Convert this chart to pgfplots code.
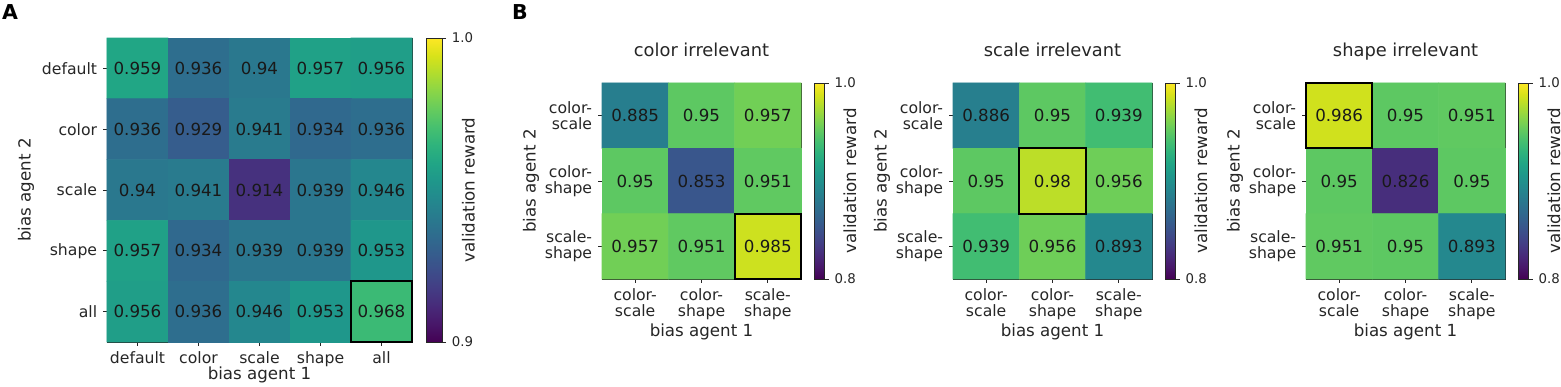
\documentclass[border=0pt]{standalone}
\usepackage{fontspec}
\setmainfont{DejaVu Sans}
\usepackage{pgfplots}
\usepgfplotslibrary{colormaps}
\pgfplotsset{compat=1.18}

\definecolor{txt}{HTML}{262626}

% common look of the heatmaps (1 px of the reference = 0.6pt)
\pgfplotsset{
  heatmap axis/.style={
    scale only axis,
    y dir=reverse,
    clip=false,
    colormap/viridis,
    tick align=outside,
    tick pos=left,
    major tick length=2.4pt,
    tick style={txt, line width=0.5pt},
    axis line style={txt, line width=0.5pt},
    every tick label/.append style={font=\fontsize{9.4}{9.6}\selectfont, text=txt},
    label style={font=\fontsize{10}{12}\selectfont, text=txt},
    title style={font=\fontsize{10.7}{12}\selectfont, text=txt,
      at={(axis description cs:0.5,1)}, anchor=base, yshift=10pt},
    colorbar,
  },
  heatmap cells/.style={
    matrix plot*,
    mesh/cols=#1,
    point meta=explicit,
    nodes near coords={\pgfmathprintnumber[fixed,precision=3,assume math mode=true]{\pgfplotspointmeta}},
    nodes near coords align={center},
    every node near coord/.append style={font=\fontsize{10}{12}\selectfont, text=black!90},
  },
  three by three/.style={
    width=119.4pt, height=117.6pt,
    xmin=-0.5, xmax=2.5, ymin=-0.5, ymax=2.5,
    xtick={0,1,2}, ytick={0,1,2},
    xticklabels={{color-\\scale},{color-\\shape},{scale-\\shape}},
    yticklabels={{color-\\scale},{color-\\shape},{scale-\\shape}},
    xticklabel style={align=center},
    yticklabel style={align=right},
    xlabel={bias agent 1}, ylabel={bias agent 2},
    xlabel style={at={(axis description cs:0.5,0)}, anchor=base, yshift=-34.8pt},
    ylabel style={at={(axis description cs:-0.3337,0.5)}, anchor=base},
    point meta min=0.8, point meta max=1,
    colorbar shift/.style={xshift=7.8pt},
    colorbar style={
      at={(parent axis.north east)}, anchor=north west,
      width=6.4pt,
      ytick={0.8,1}, yticklabels={0.8,1.0},
      tick align=outside, ytick pos=right, major tick length=2.4pt,
      tick style={txt, line width=0.5pt},
      axis line style={txt, line width=0.5pt},
      yticklabel style={font=\fontsize{8}{9}\selectfont, text=txt},
      ylabel={validation reward},
      ylabel style={font=\fontsize{10}{12}\selectfont, text=txt,
        at={(axis description cs:3.95,0.5)}, anchor=base},
    },
  },
}

\begin{document}
\begin{tikzpicture}
\path[use as bounding box] (0,0) rectangle (936.6pt,232.2pt);

\node[anchor=base west, inner sep=0pt, font=\bfseries\fontsize{12.3}{14}\selectfont] at (1pt,220.2pt) {A};
\node[anchor=base west, inner sep=0pt, font=\bfseries\fontsize{12.3}{14}\selectfont] at (307pt,220.2pt) {B};

% ---- A: all biases
\begin{axis}[heatmap axis,
  at={(64.2pt,27pt)}, anchor=south west,
  width=183pt, height=182.4pt,
  xmin=-0.5, xmax=4.5, ymin=-0.5, ymax=4.5,
  xtick={0,...,4}, ytick={0,...,4},
  xticklabels={default,color,scale,shape,all},
  yticklabels={default,color,scale,shape,all},
  xlabel={bias agent 1}, ylabel={bias agent 2},
  xlabel style={at={(axis description cs:0.5,0)}, anchor=base, yshift=-22.4pt},
  ylabel style={at={(axis description cs:-0.2505,0.5)}, anchor=base},
  point meta min=0.9, point meta max=1,
  colorbar shift/.style={xshift=8.4pt},
  colorbar style={
    at={(parent axis.north east)}, anchor=north west,
    width=9.6pt,
    ytick={0.9,1}, yticklabels={0.9,1.0},
    tick align=outside, ytick pos=right, major tick length=2.4pt,
    tick style={txt, line width=0.5pt},
    axis line style={txt, line width=0.5pt},
    yticklabel style={font=\fontsize{8}{9}\selectfont, text=txt},
    ylabel={validation reward},
    ylabel style={font=\fontsize{10}{12}\selectfont, text=txt,
      at={(axis description cs:3.04,0.5)}, anchor=base},
  },
]
\addplot[heatmap cells=5] coordinates {
  (0,0) [0.959] (1,0) [0.936] (2,0) [0.94]  (3,0) [0.957] (4,0) [0.956]
  (0,1) [0.936] (1,1) [0.929] (2,1) [0.941] (3,1) [0.934] (4,1) [0.936]
  (0,2) [0.94]  (1,2) [0.941] (2,2) [0.914] (3,2) [0.939] (4,2) [0.946]
  (0,3) [0.957] (1,3) [0.934] (2,3) [0.939] (3,3) [0.939] (4,3) [0.953]
  (0,4) [0.956] (1,4) [0.936] (2,4) [0.946] (3,4) [0.953] (4,4) [0.968]
};
\addplot[black, line width=1.2pt, forget plot] coordinates {(3.5,3.5) (4.5,3.5) (4.5,4.5) (3.5,4.5) (3.5,3.5) (4.5,3.5)};
\end{axis}

% ---- B: color irrelevant
\begin{axis}[heatmap axis, three by three, at={(361.2pt,64.8pt)}, anchor=south west,
  title={color irrelevant}]
\addplot[heatmap cells=3] coordinates {
  (0,0) [0.885] (1,0) [0.95]  (2,0) [0.957]
  (0,1) [0.95]  (1,1) [0.853] (2,1) [0.951]
  (0,2) [0.957] (1,2) [0.951] (2,2) [0.985]
};
\addplot[black, line width=1.2pt, forget plot] coordinates {(1.5,1.5) (2.5,1.5) (2.5,2.5) (1.5,2.5) (1.5,1.5) (2.5,1.5)};
\end{axis}

% ---- B: scale irrelevant
\begin{axis}[heatmap axis, three by three, at={(571.8pt,64.8pt)}, anchor=south west,
  title={scale irrelevant}]
\addplot[heatmap cells=3] coordinates {
  (0,0) [0.886] (1,0) [0.95]  (2,0) [0.939]
  (0,1) [0.95]  (1,1) [0.98]  (2,1) [0.956]
  (0,2) [0.939] (1,2) [0.956] (2,2) [0.893]
};
\addplot[black, line width=1.2pt, forget plot] coordinates {(0.5,0.5) (1.5,0.5) (1.5,1.5) (0.5,1.5) (0.5,0.5) (1.5,0.5)};
\end{axis}

% ---- B: shape irrelevant
\begin{axis}[heatmap axis, three by three, at={(783.6pt,64.8pt)}, anchor=south west,
  title={shape irrelevant}]
\addplot[heatmap cells=3] coordinates {
  (0,0) [0.986] (1,0) [0.95]  (2,0) [0.951]
  (0,1) [0.95]  (1,1) [0.826] (2,1) [0.95]
  (0,2) [0.951] (1,2) [0.95]  (2,2) [0.893]
};
\addplot[black, line width=1.2pt, forget plot] coordinates {(-0.5,-0.5) (0.5,-0.5) (0.5,0.5) (-0.5,0.5) (-0.5,-0.5) (0.5,-0.5)};
\end{axis}
\end{tikzpicture}
\end{document}
